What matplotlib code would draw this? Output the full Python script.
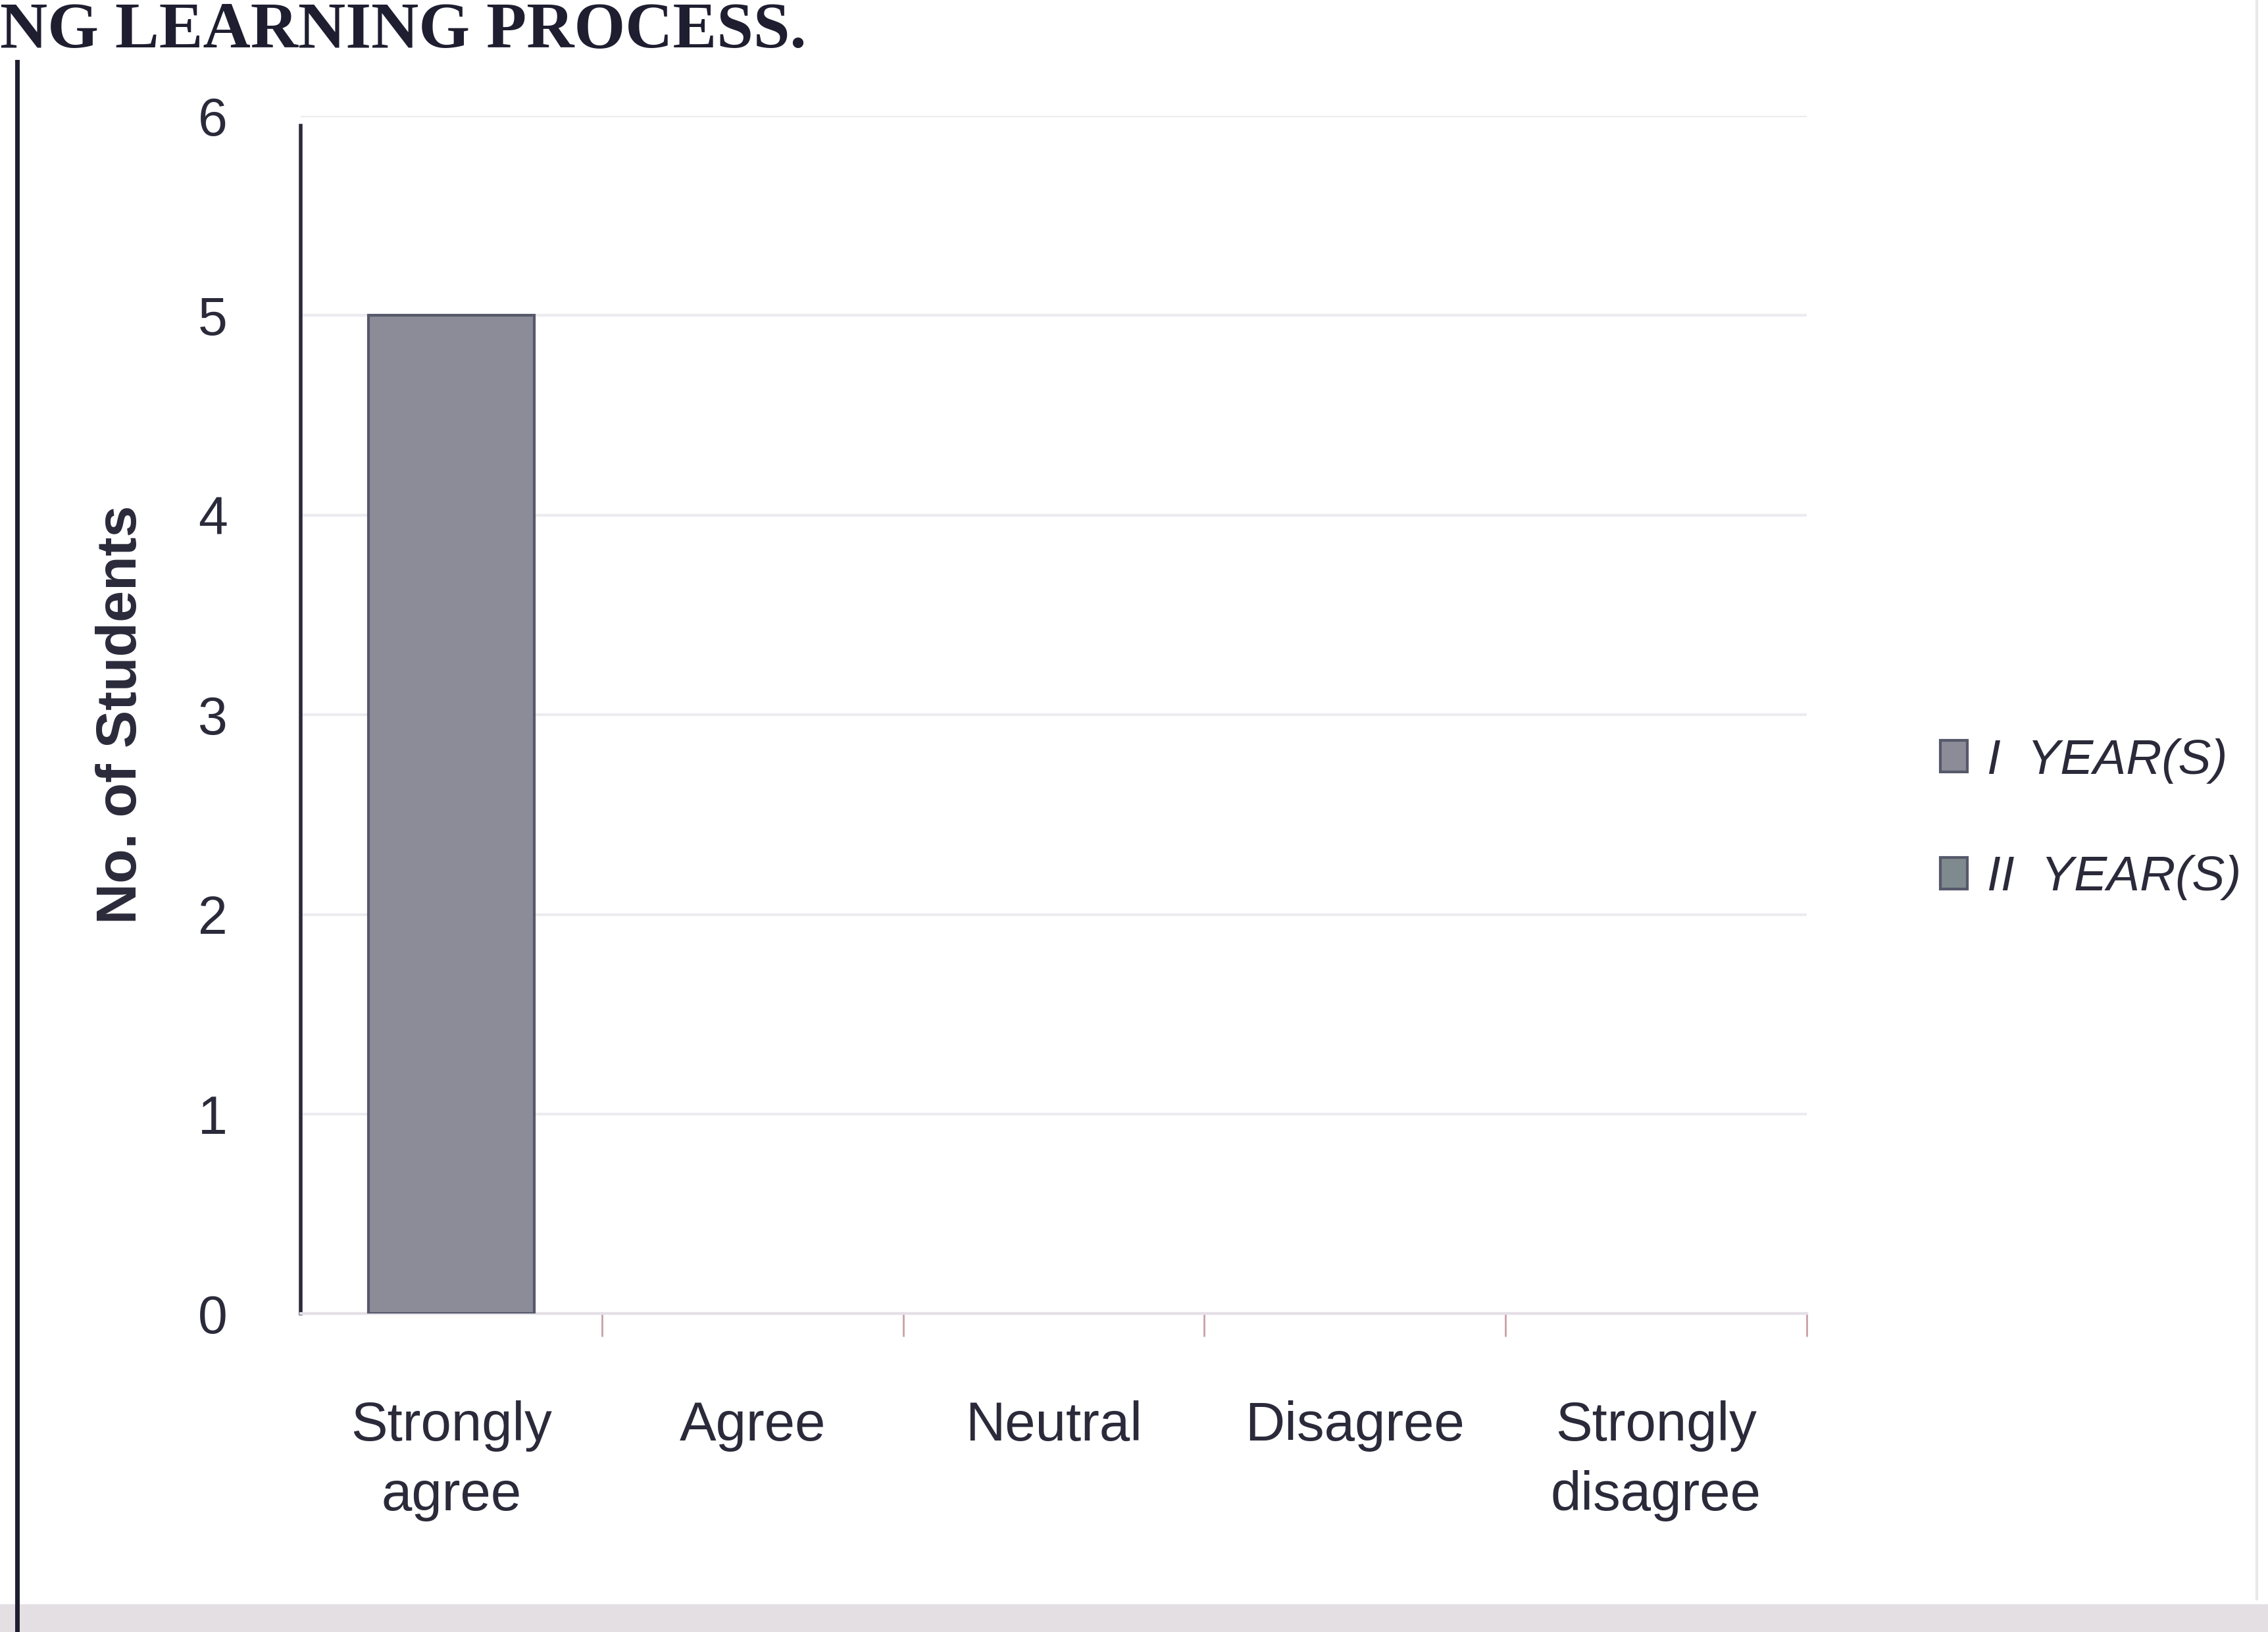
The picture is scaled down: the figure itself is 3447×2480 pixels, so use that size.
import matplotlib
matplotlib.use("Agg")
import matplotlib.pyplot as plt
import numpy as np

# data
categories = ["Strongly\nagree", "Agree", "Neutral", "Disagree", "Strongly\ndisagree"]
year1 = [5, 0, 0, 0, 0]
year2 = [0, 0, 0, 0, 0]
series_names = ["I  YEAR(S)", "II  YEAR(S)"]
y_ticks = [0, 1, 2, 3, 4, 5, 6]


def main():
    fig = plt.figure(figsize=(34.47, 24.8), dpi=100)
    fig.patch.set_facecolor("white")

    ax = fig.add_axes([0.1326, 0.195, 0.664, 0.734])
    x = np.arange(len(categories))

    # stacked columns, only the first one has a value (no outline on empty ones)
    lw1 = [3 if v > 0 else 0 for v in year1]
    lw2 = [3 if v > 0 else 0 for v in year2]
    ax.bar(x, year1, width=0.55, color="#8c8b98", edgecolor="#55596a", linewidth=lw1,
           zorder=3)
    ax.bar(x, year2, width=0.55, bottom=year1, color="#7f8a8e", edgecolor="#55596a",
           linewidth=lw2, zorder=3)

    ax.set_xlim(-0.5, len(categories) - 0.5)
    ax.set_ylim(0, 6)
    ax.set_yticks(y_ticks)
    ax.set_yticklabels([str(t) for t in y_ticks], fontsize=58, family="Liberation Sans",
                       color="#2a2a3a")
    ax.set_xticks(x)
    ax.set_xticklabels(categories, fontsize=60, family="Liberation Sans", color="#2a2a3a",
                       linespacing=1.45)
    ax.tick_params(axis="x", which="major", length=0, pad=95)
    ax.tick_params(axis="y", length=0, pad=80)
    ax.set_xticks(np.arange(0.5, len(categories) - 0.5 + 0.01, 1.0), minor=True)
    ax.tick_params(axis="x", which="minor", length=25, width=2, color="#c9a0a8")

    ax.grid(axis="y", color="#ececf0", linewidth=3, zorder=0)
    for side in ["top", "right"]:
        ax.spines[side].set_visible(False)
    ax.spines["left"].set_color("#2b2b3d")
    ax.spines["left"].set_linewidth(4)
    ax.spines["left"].set_bounds(0, 5.95)
    ax.spines["bottom"].set_color("#e4dfe6")
    ax.spines["bottom"].set_linewidth(3)

    ax.set_ylabel("No. of Students", fontsize=62, fontweight="bold",
                  family="Liberation Sans", color="#2a2a3a", labelpad=55)

    # legend swatches, both with the same outline
    handles = [plt.Rectangle((0, 0), 1, 1, facecolor="#8c8b98", edgecolor="#55596a", linewidth=3),
               plt.Rectangle((0, 0), 1, 1, facecolor="#7f8a8e", edgecolor="#55596a", linewidth=3)]
    leg = fig.legend(handles, series_names, frameon=False, handlelength=0.55,
                     handleheight=0.6, handletextpad=0.4, labelspacing=1.45,
                     loc="center left",
                     prop={"family": "Liberation Sans", "size": 54, "style": "italic"})
    leg.set_bbox_to_anchor((0.836, 0.398, 0.16, 0.2), transform=fig.transFigure)
    for t in leg.get_texts():
        t.set_color("#2a2a3a")

    # title of the page, at the top edge of the photo
    fig.text(0.0, 0.999, "NG LEARNING PROCESS.", fontsize=72, fontweight="bold",
             family="Liberation Serif", color="#1e1e30", ha="left", va="top")

    # frame line on the left and grey page edge at the bottom
    fig.add_artist(plt.Line2D([0.0075, 0.0075], [0.0, 0.962], color="#1e1e30",
                              linewidth=5, transform=fig.transFigure))
    fig.add_artist(plt.Rectangle((0.0, 0.0), 1.0, 0.017, color="#e3dfe3",
                                 transform=fig.transFigure))
    fig.add_artist(plt.Line2D([0.995, 0.995], [0.02, 1.0], color="#e8e8ec",
                              linewidth=3, transform=fig.transFigure))

    fig.savefig("out.png", dpi=100)


if __name__ == '__main__':
    main()
